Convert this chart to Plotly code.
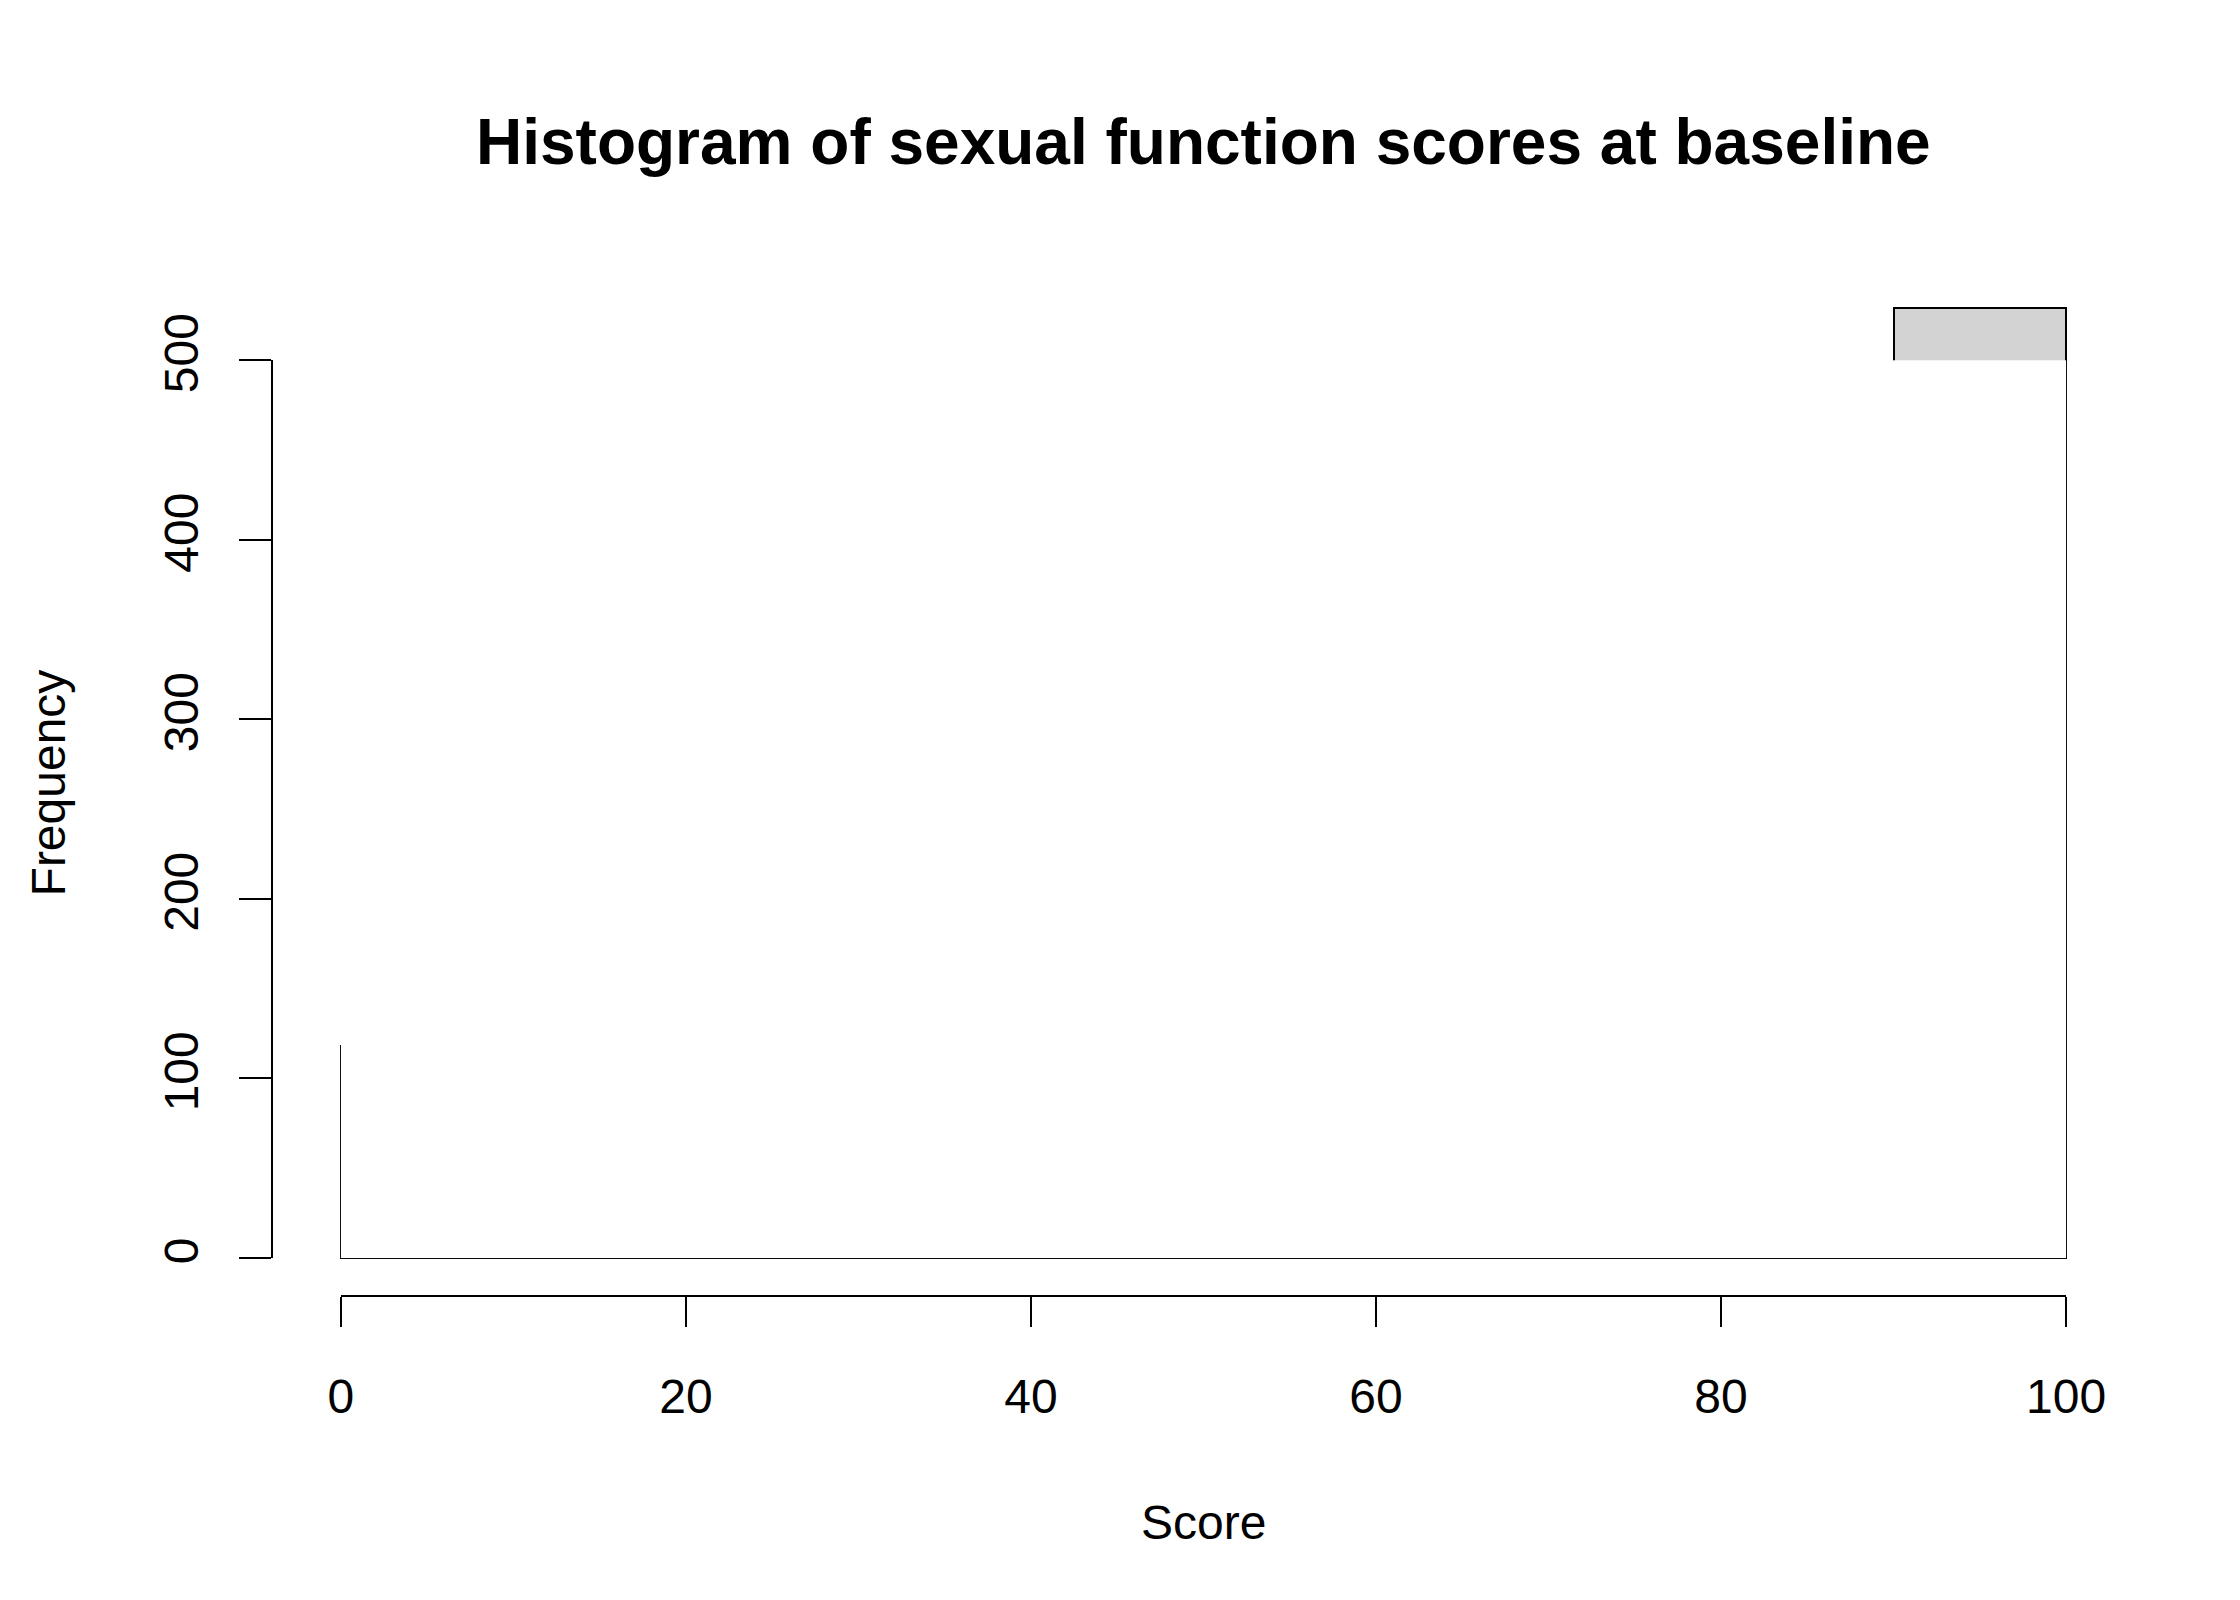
import plotly.graph_objects as go

# histogram bins (score) and counts
bin_left = [0, 10, 20, 30, 40, 50, 60, 70, 80, 90]
counts = [118, 117, 112, 102, 151, 147, 196, 203, 278, 529]
x_ticks = [0, 20, 40, 60, 80, 100]
y_ticks = [0, 100, 200, 300, 400, 500]

centers = [b + 5 for b in bin_left]
ymax = max(counts)

FONT = "Liberation Sans, Arial, sans-serif"

fig = go.Figure()
fig.add_trace(go.Bar(
    x=centers, y=counts, width=10,
    marker=dict(color="#D3D3D3", line=dict(color="black", width=2)),
    xaxis="x", yaxis="y", hoverinfo="x+y",
))
# dummy trace so the detached R-style axes get drawn
fig.add_trace(go.Scatter(x=[0, 100], y=[0, 500], mode="markers",
                         marker=dict(opacity=0), xaxis="x2", yaxis="y2",
                         hoverinfo="skip", showlegend=False))

fig.update_layout(
    width=2240, height=1600,
    margin=dict(l=264, r=113, t=262, b=312),
    plot_bgcolor="white", paper_bgcolor="white",
    showlegend=False, bargap=0,
    font=dict(family=FONT, size=48, color="black"),
    xaxis=dict(range=[-4, 104], visible=False, domain=[0, 1]),
    yaxis=dict(range=[-0.04 * ymax, 1.04 * ymax], visible=False, domain=[0, 1]),
    xaxis2=dict(range=[0, 100], domain=[0.037, 0.963], anchor="free",
                position=0, side="bottom",
                showline=True, linecolor="black", linewidth=2,
                ticks="outside", ticklen=30, tickwidth=2, tickcolor="black",
                tickvals=x_ticks, showgrid=False, zeroline=False,
                ticklabelstandoff=28),
    yaxis2=dict(range=[0, 500], domain=[0.037, 0.912], anchor="free",
                position=0, side="left",
                showline=True, linecolor="black", linewidth=2,
                ticks="outside", ticklen=32, tickwidth=2, tickcolor="black",
                tickvals=y_ticks, tickangle=-90, showgrid=False, zeroline=False,
                ticklabelstandoff=22),
    annotations=[
        dict(text="<b>Histogram of sexual function scores at baseline</b>",
             x=0.5, y=1.125, xref="paper", yref="paper", showarrow=False,
             font=dict(size=64), xanchor="center", yanchor="middle"),
        dict(text="Score", x=0.5, y=-0.221, xref="paper", yref="paper",
             showarrow=False, xanchor="center", yanchor="middle"),
        dict(text="Frequency", x=-0.120, y=0.5, xref="paper", yref="paper",
             showarrow=False, textangle=-90, xanchor="center", yanchor="middle"),
    ],
)

fig.write_html("out.html")
